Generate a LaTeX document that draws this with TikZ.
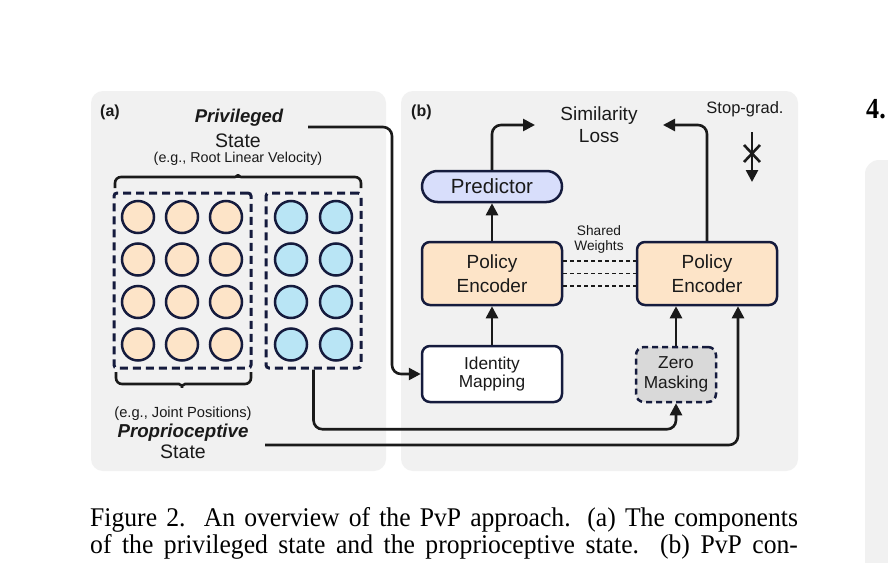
\documentclass[tikz,border=0pt]{standalone}
\usepackage{fontspec}
\usepackage{graphicx}
\setmainfont{Liberation Sans}
\newfontfamily\capfont{Liberation Serif}
\usetikzlibrary{arrows.meta,calc}

\definecolor{navy}{HTML}{151B3D}
\definecolor{ink}{HTML}{1A1A1A}
\definecolor{panelgray}{HTML}{F1F1F1}
\definecolor{peach}{HTML}{FDE4C8}
\definecolor{skyb}{HTML}{B9E5F5}
\definecolor{lav}{HTML}{D8DEFB}
\definecolor{maskgray}{HTML}{D9D9D9}

\tikzset{
  panel/.style={rectangle, rounded corners=12pt, fill=panelgray, draw=none, inner sep=0},
  box/.style={rectangle, rounded corners=8pt, draw=navy, line width=2.5pt, align=center, inner sep=0, text=ink},
  dot/.style={circle, draw=navy, line width=2.5pt, minimum size=32pt, inner sep=0},
  group/.style={rectangle, rounded corners=3pt, draw=navy, line width=3pt, dash pattern=on 8pt off 5pt, inner sep=0},
  conn/.style={draw=ink, line width=2.6pt, rounded corners=9pt},
  arr/.style={conn, -{Triangle[width=12pt,length=12pt]}},
  shared/.style={draw=ink, line width=1.3pt, dash pattern=on 4pt off 3pt},
  bracel/.style={draw=ink, line width=2.6pt, rounded corners=6pt},
  lbl/.style={inner sep=0, text=ink, anchor=base},
}

\begin{document}
\begin{tikzpicture}[x=1pt, y=-1pt]
\clip (0,0) rectangle (888,562);
\useasboundingbox (0,0) rectangle (888,562);
\fill[white] (0,0) rectangle (888,562);

% panels
\node[panel, minimum width=295pt, minimum height=380pt] (pa) at (238.5,281) {};
\node[panel, minimum width=397pt, minimum height=380pt] (pb) at (599.5,281) {};
\fill[panelgray, rounded corners=14pt] (865,160) rectangle (930,620);

% panel (a)
\node[lbl, anchor=base west, font=\bfseries\fontsize{16}{18}\selectfont] (la) at (100,116) {(a)};
\node[lbl, font=\bfseries\itshape\fontsize{18.5}{21}\selectfont] (priv) at (239,122) {Privileged};
\node[lbl, font=\fontsize{19.5}{22}\selectfont] (privs) at (238,147) {State};
\node[lbl, font=\fontsize{14.3}{16}\selectfont] (privex) at (238,162) {(e.g., Root Linear Velocity)};

\node[group, minimum width=137pt, minimum height=175pt] (og) at (182.5,280.5) {};
\node[group, minimum width=95pt, minimum height=175pt] (bg) at (313.5,280.5) {};

\foreach \r [count=\i] in {217,259.5,302,344.5} {
  \foreach \c [count=\j] in {138,182,226}
    \node[dot, fill=peach] (o-\i-\j) at (\c,\r) {};
  \foreach \c [count=\j] in {291,336}
    \node[dot, fill=skyb] (b-\i-\j) at (\c,\r) {};
}

% braces
\draw[bracel] (115,188) -- (115,177) -- (229,177) .. controls (235,177) and (238,175) .. (238,170.5)
  .. controls (238,175) and (241,177) .. (247,177) -- (361,177) -- (361,188);
\draw[bracel] (116,372) -- (116,384) -- (173,384) .. controls (179,384) and (182,386) .. (182,391.5)
  .. controls (182,386) and (185,384) .. (191,384) -- (251,384) -- (251,372);

\node[lbl, font=\fontsize{14.7}{17}\selectfont] (propex) at (183,417) {(e.g., Joint Positions)};
\node[lbl, font=\bfseries\itshape\fontsize{18.7}{21}\selectfont] (prop) at (183,437.5) {Proprioceptive};
\node[lbl, font=\fontsize{19.5}{22}\selectfont] (props) at (183,458) {State};

% panel (b)
\node[lbl, anchor=base west, font=\bfseries\fontsize{16}{18}\selectfont] (lb) at (411,116) {(b)};
\node[lbl, align=center, font=\fontsize{19}{22}\selectfont] (sim) at (599,142) {Similarity\\Loss};
\node[lbl, font=\fontsize{16.5}{19}\selectfont] (sg) at (745,113) {Stop-grad.};
\node[lbl, align=center, font=\fontsize{13.7}{14.5}\selectfont] (sw) at (599,250) {Shared\\Weights};

\node[box, fill=lav, rounded corners=15.5pt, minimum width=140pt, minimum height=31pt,
      font=\fontsize{20.5}{23}\selectfont] (pred) at (492,186.5) {Predictor};
\node[box, fill=peach, minimum width=140pt, minimum height=63pt,
      font=\fontsize{19}{23.5}\selectfont] (pe1) at (492,273.5) {Policy\\Encoder};
\node[box, fill=peach, minimum width=140pt, minimum height=63pt,
      font=\fontsize{19}{23.5}\selectfont] (pe2) at (707,273.5) {Policy\\Encoder};
\node[box, fill=white, minimum width=140pt, minimum height=56pt,
      font=\fontsize{17.3}{17.5}\selectfont] (idm) at (492,374) {Identity\\Mapping};
\node[box, fill=maskgray, draw=navy, dash pattern=on 6pt off 4pt, minimum width=80pt, minimum height=55pt,
      font=\fontsize{17.3}{19.5}\selectfont] (zm) at (676,374.5) {Zero\\Masking};

% shared weights
\draw[shared] ([yshift=12.5pt]pe1.east) -- ([yshift=12.5pt]pe2.west);
\draw[shared] (pe1.east) -- (pe2.west);
\draw[shared] ([yshift=-12.5pt]pe1.east) -- ([yshift=-12.5pt]pe2.west);

% connectors
\coordinate (simL) at (535,125);
\coordinate (simR) at (663,125);
\draw[arr] (idm.north) -- (pe1.south);
\draw[arr] (pe1.north) -- (pred.south);
\draw[arr] (pred.north) |- (simL);
\draw[arr] (pe2.north) |- (simR);
\draw[arr] (zm.north) -- (zm.north |- pe2.south);

\coordinate (pvs) at (308,127);
\coordinate (pvc) at (392,127);
\draw[arr] (pvs) -- (pvc) |- (idm.west);

\draw[arr] (bg.south) |- ($(zm.south)+(0,26)$) -- (zm.south);

\coordinate (pps) at (265,445);
\draw[arr] (pps) -| ([xshift=31pt]pe2.south);

% stop-grad symbol
\coordinate (sgA) at (752,132);
\coordinate (sgB) at (752,182);
\draw[arr] (sgA) -- (sgB);
\draw[conn] (744,145) -- (760,162);
\draw[conn] (744,162) -- (760,145);

% caption and section number
\node[inner sep=0, anchor=base west, text=black, font=\capfont\fontsize{27}{30}\selectfont] (cap1) at (90,526.5)
  {\scalebox{0.95}[1]{\makebox[745pt][s]{Figure 2.\ \ An overview of the PvP approach. (a) The components}}};
\node[inner sep=0, anchor=base west, text=black, font=\capfont\fontsize{27}{30}\selectfont] (cap2) at (90,553.5)
  {\scalebox{0.95}[1]{\makebox[745pt][s]{of the privileged state and the proprioceptive state.\ \ (b) PvP con-}}};
\node[inner sep=0, anchor=base west, text=black, font=\capfont\bfseries\fontsize{29}{32}\selectfont] (sec) at (866,118)
  {\scalebox{0.9}[1]{4.}};
\end{tikzpicture}
\end{document}
